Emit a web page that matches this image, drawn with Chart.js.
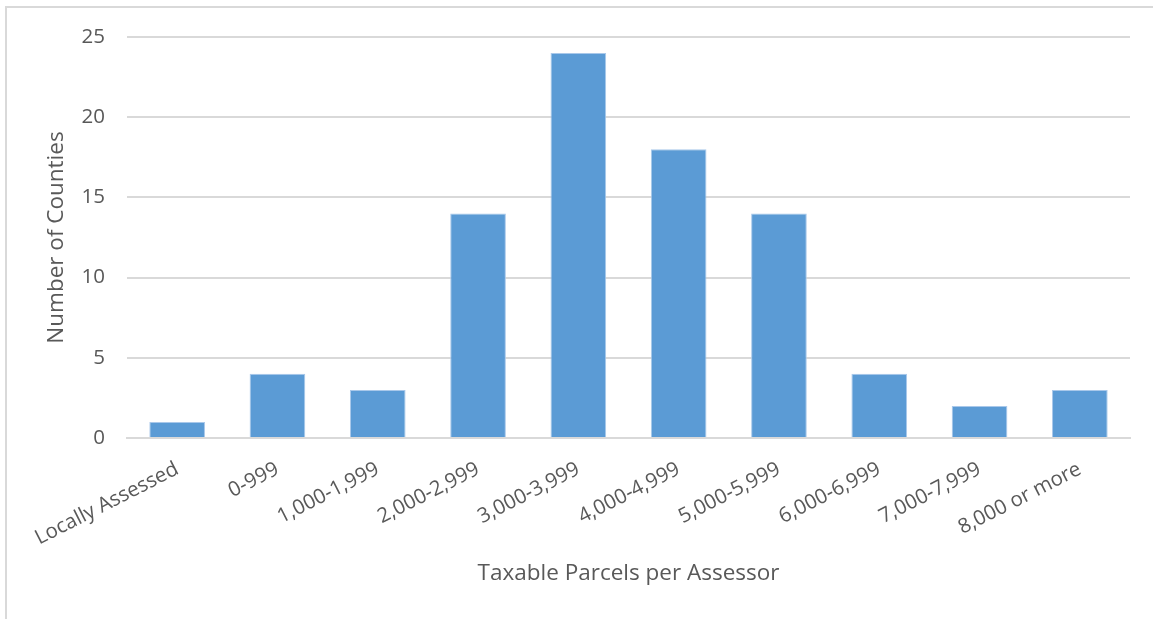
<!DOCTYPE html>
<html>
<head>
<meta charset="utf-8">
<script src="https://cdn.jsdelivr.net/npm/chart.js@4"></script>
<style>
  html, body { margin: 0; padding: 0; background: #fff; }
  #frame { position: absolute; left: 5px; top: 6px; width: 1160px; height: 620px; border: 2px solid #d9d9d9; box-sizing: border-box; }
  #wrap { position: absolute; left: 0; top: 0; width: 1153px; height: 619px; }
</style>
</head>
<body>
<div id="frame"></div>
<div id="wrap"><canvas id="chart"></canvas></div>
<script>
// parcel bands and how many counties fall in each
const parcelBands = ['Locally Assessed', '0-999', '1,000-1,999', '2,000-2,999', '3,000-3,999',
  '4,000-4,999', '5,000-5,999', '6,000-6,999', '7,000-7,999', '8,000 or more'];
const countyCounts = [1, 4, 3, 14, 24, 18, 14, 4, 2, 3];
const yTicks = [0, 5, 10, 15, 20, 25];

const grey = '#595959';
const fontName = '"Open Sans", sans-serif';

let ctx = document.getElementById('chart').getContext('2d');
new Chart(ctx, {
  type: 'bar',
  data: {
    labels: parcelBands,
    datasets: [{
      label: 'Number of Counties',
      data: countyCounts,
      backgroundColor: '#5b9bd5',
      borderColor: '#a9c8ea',
      borderWidth: 1,
      categoryPercentage: 1,
      barPercentage: 0.555
    }]
  },
  options: {
    responsive: true,
    maintainAspectRatio: false,
    animation: false,
    layout: { padding: { top: 37, right: 23, left: 0, bottom: 0 } },
    plugins: {
      legend: { display: false },
      tooltip: { enabled: false }
    },
    scales: {
      x: {
        grid: { display: false, drawTicks: false },
        border: { color: '#d9d9d9', width: 2 },
        ticks: {
          color: grey,
          font: { family: fontName, size: 20.5 },
          minRotation: 27,
          maxRotation: 27,
          padding: 19,
          autoSkip: false
        },
        title: {
          display: true,
          text: 'Taxable Parcels per Assessor',
          color: grey,
          font: { family: fontName, size: 22.5 },
          padding: { top: 32, bottom: 32 }
        },
        afterFit: function(scale) { scale.height = 181; }
      },
      y: {
        min: 0,
        max: 25,
        afterBuildTicks: function(scale) { scale.ticks = yTicks.map(v => ({ value: v })); },
        grid: { color: '#d9d9d9', lineWidth: 2, drawTicks: false },
        border: { display: false },
        ticks: {
          color: grey,
          font: { family: fontName, size: 20.5 },
          padding: 22
        },
        title: {
          display: true,
          text: 'Number of Counties',
          color: grey,
          font: { family: fontName, size: 22.5 },
          padding: { top: 43, bottom: 43 }
        },
        afterFit: function(scale) { scale.width = 127; }
      }
    }
  }
});
</script>
</body>
</html>
